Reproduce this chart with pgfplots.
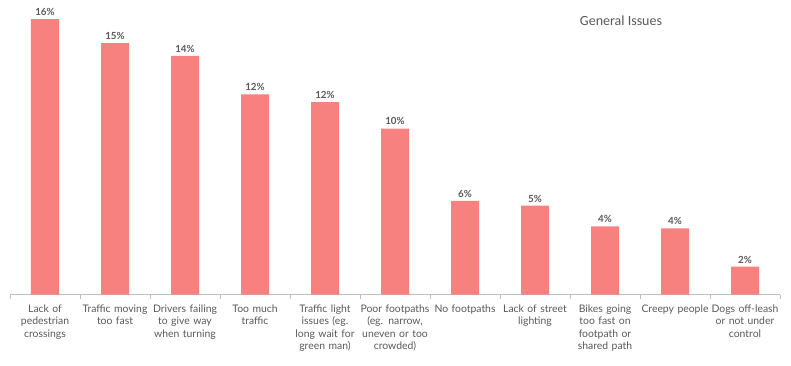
\documentclass[border=0pt]{standalone}
\usepackage{fontspec}
\setmainfont{Lato}
\newfontfamily\titlefont{Carlito}
\usepackage{pgfplots}
\pgfplotsset{compat=1.18}
\definecolor{barc}{HTML}{F7817F}
\definecolor{txt}{HTML}{595959}
\definecolor{axc}{HTML}{BFBFBF}
\begin{document}
\begin{tikzpicture}
\useasboundingbox (-10pt,-70.5pt) rectangle (781pt,294.5pt);
\begin{axis}[
 scale only axis, width=770pt, height=294.5pt,
 xmin=-0.5, xmax=10.5, ymin=0, ymax=17.22,
 axis x line*=bottom, axis y line=none,
 clip=false,
 ybar, bar width=28pt,
 xtick={0,...,10},
 xticklabels={{Lack of\\pedestrian\\crossings},{Traffic moving\\too fast},{Drivers failing\\to give way\\when turning},{Too much\\traffic},{Traffic light\\issues (eg.\\long wait for\\green man)},{Poor footpaths\\(eg. narrow,\\uneven or too\\crowded)},{No footpaths},{Lack of street\\lighting},{Bikes going\\too fast on\\footpath or\\shared path},{Creepy people},{Dogs off-leash\\or not under\\control}},
 major x tick style={draw=none},
 minor xtick={-0.5,0.5,...,10.5},
 minor tick length=4pt, tick align=outside,
 minor x tick style={draw=axc, line width=0.8pt},
 x axis line style={draw=axc, line width=1.2pt, -},
 xticklabel style={text width=72pt, align=center, font=\fontsize{10.4}{12.3}\selectfont, text=txt, anchor=north, yshift=-2.5pt},
 nodes near coords, point meta=explicit symbolic,
 nodes near coords style={font=\bfseries\fontsize{9.8}{11}\selectfont, text=txt},
]
\addplot[fill=barc, draw=none] table[meta=label] {
x y label
0 16.1 16\%
1 14.7 15\%
2 13.95 14\%
3 11.7 12\%
4 11.25 12\%
5 9.7 10\%
6 5.47 6\%
7 5.19 5\%
8 3.99 4\%
9 3.87 4\%
10 1.63 2\%
};
\node[font=\titlefont\fontsize{14}{16}\selectfont, text=txt] at (rel axis cs:0.7935,0.93) {General Issues};
\end{axis}
\end{tikzpicture}
\end{document}
